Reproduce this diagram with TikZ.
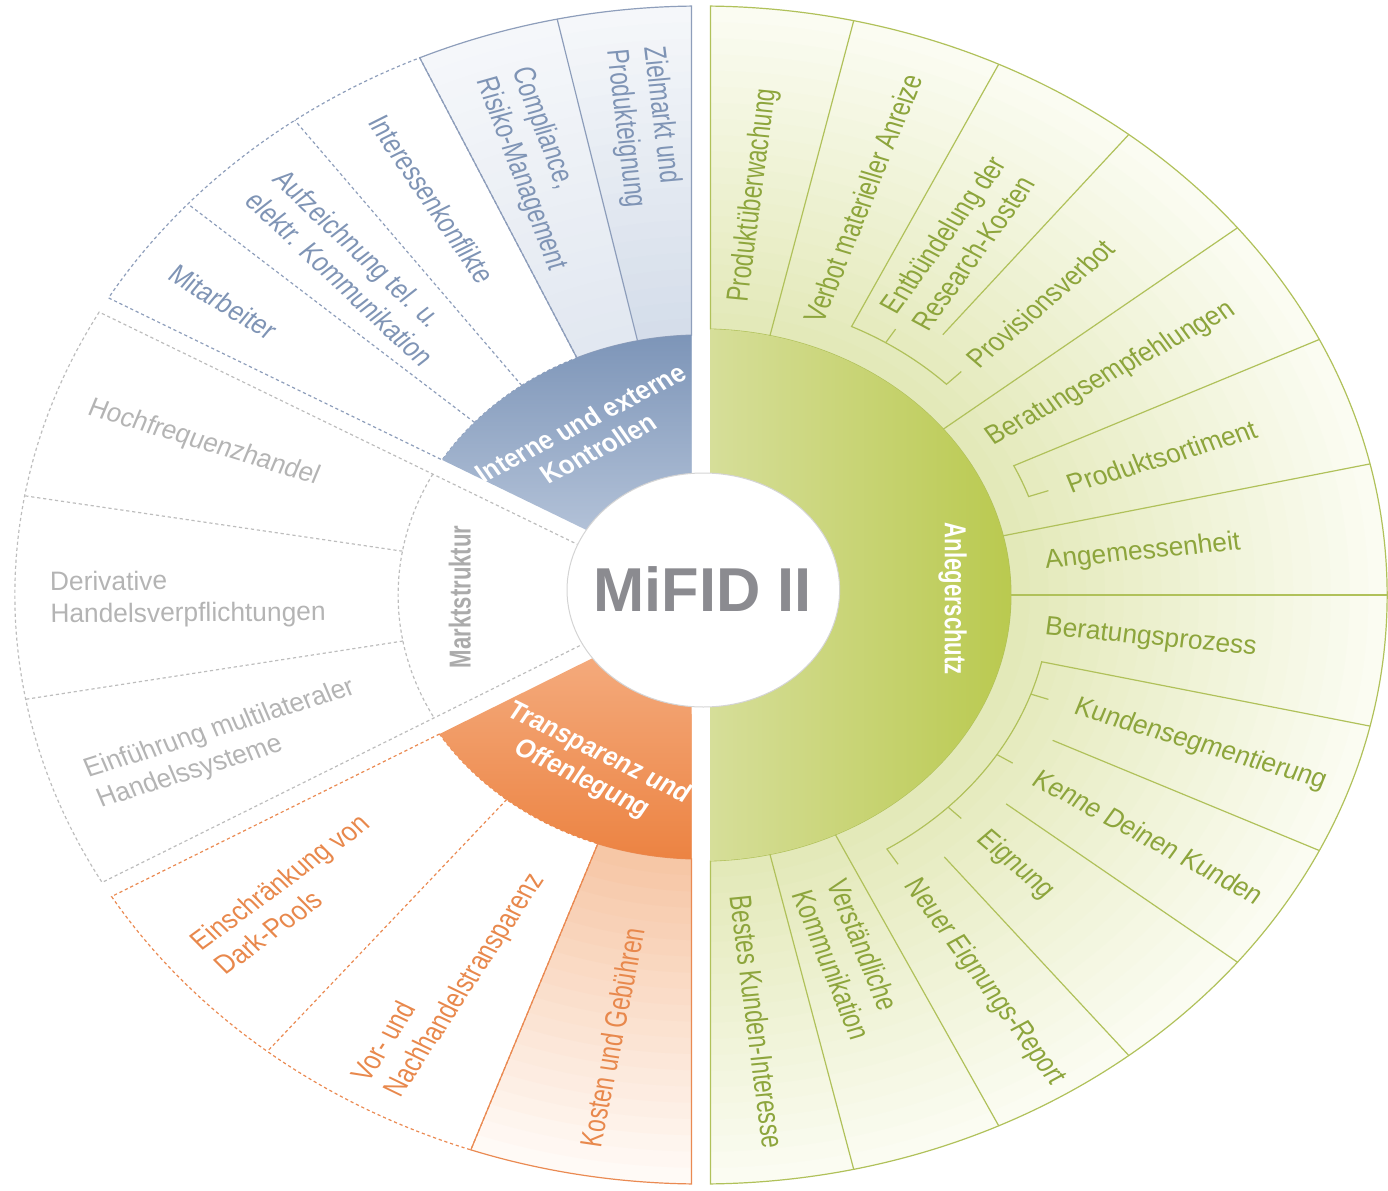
\documentclass[tikz,border=0pt]{standalone}
\usepackage{fontspec}
\setmainfont{Liberation Sans}[FakeStretch=0.85]
\usetikzlibrary{calc}
\definecolor{gIn}{HTML}{E2E8B6}
\definecolor{gOut}{HTML}{FBFCF2}
\definecolor{gRingL}{HTML}{D6DE99}
\definecolor{gRingR}{HTML}{B9C94E}
\definecolor{gLine}{HTML}{B0C15A}
\definecolor{gText}{HTML}{8DA53C}
\definecolor{bIn}{HTML}{D3DCE9}
\definecolor{bIn2}{HTML}{E1E7F0}
\definecolor{bOut}{HTML}{F5F7FA}
\definecolor{bRingT}{HTML}{7D95B8}
\definecolor{bRingB}{HTML}{B3C2D8}
\definecolor{bLine}{HTML}{8E9EBB}
\definecolor{bText}{HTML}{7F94B5}
\definecolor{oIn}{HTML}{F6C4A2}
\definecolor{oOut}{HTML}{FFFAF6}
\definecolor{oRingT}{HTML}{F4AA7C}
\definecolor{oRingB}{HTML}{EC8342}
\definecolor{oLine}{HTML}{EA8A52}
\definecolor{oText}{HTML}{E8884C}
\definecolor{grText}{HTML}{B4B4B4}
\definecolor{grLine}{HTML}{BDBDBD}
\definecolor{grBold}{HTML}{ABABAB}
\definecolor{mText}{HTML}{8B8B90}
\definecolor{cBorder}{HTML}{D4D4D4}
% slice: #1 options, #2 a1, #3 a2, #4 rin, #5 rout, #6 offset at a1, #7 offset at a2
\newcommand\mslice[7]{%
  \pgfmathsetmacro\slA{#2+asin(#6/#4)}%
  \pgfmathsetmacro\slB{#2+asin(#6/#5)}%
  \pgfmathsetmacro\slC{#3-asin(#7/#5)}%
  \pgfmathsetmacro\slD{#3-asin(#7/#4)}%
  \path[#1] (\slA:#4) -- (\slB:#5) arc[start angle=\slB,end angle=\slC,radius=#5]
    -- (\slD:#4) arc[start angle=\slD,end angle=\slA,radius=#4] -- cycle;}
% fade: #1 a1, #2 a2, #3 d1, #4 d2, #5 inner colour, #6 outer colour, #7 inner radius
\newcommand\mfade[7]{%
  \foreach \k in {0,...,20}{%
    \pgfmathsetmacro\fr{589-\k*(589-#7)/20}%
    \pgfmathtruncatemacro\fp{\k*5}%
    \mslice{fill=#5!\fp!#6}{#1}{#2}{120}{\fr}{#3}{#4}}}
\begin{document}
\begin{tikzpicture}[x=0.5pt,y=0.5pt,xscale=1.165,transform shape,
  font=\fontsize{13.3}{16}\selectfont,
  sline/.style={line width=0.6pt},
  dline/.style={line width=0.6pt,dash pattern=on 1.6pt off 1.4pt},
  lab/.style={anchor=west,align=left,inner sep=0pt},
  cat/.style={align=center,inner sep=0pt,text=white,font=\fontsize{13}{15}\selectfont\bfseries}]
\useasboundingbox (-601.72,-595) rectangle (589.70,595);

% ---------------- green group (Anlegerschutz)
\mfade{-90}{90}{8.15}{8.15}{gIn}{gOut}{266}
\mslice{draw=gLine,sline}{-90}{90}{266}{589}{8.15}{8.15}
\mslice{left color=gRingL,right color=gRingR}{-90}{90}{110}{266}{8.15}{8.15}
\foreach \a in {77.14,38.57,12.86,0,-64.29,-77.14}
  \draw[gLine,sline] (\a:266) -- (\a:589);
% brackets
\draw[gLine,sline] (64.29:589) -- (64.29:298) arc[start angle=64.29,end angle=45,radius=298] -- (45:316);
\draw[gLine,sline] (57.86:298) -- (57.86:314);
\draw[gLine,sline] (51.43:589) -- (51.43:333);
\draw[gLine,sline] (25.71:589) -- (25.71:298) arc[start angle=25.71,end angle=19.29,radius=298] -- (19.29:316);
\draw[gLine,sline] (-12.86:589) -- (-12.86:300) arc[start angle=-12.86,end angle=-57.86,radius=300] -- (-57.86:318);
\foreach \a in {-19.29,-32.14,-45}
  \draw[gLine,sline] (\a:300) -- (\a:316);
\foreach \a in {-25.71,-38.57,-51.43}
  \draw[gLine,sline] (\a:589) -- (\a:335);

% ---------------- blue group
\mfade{90}{102.1}{8.15}{0}{bIn}{bOut}{260}
\mfade{102.1}{114.2}{0}{0}{bIn2}{bOut}{260}
\mslice{draw=bLine,sline}{90}{114.2}{260}{589}{8.15}{0}
\draw[bLine,sline] (102.1:260) -- (102.1:589);
\mslice{draw=bLine,dline}{114.2}{150.5}{260}{589}{0}{8.15}
\foreach \a in {126.3,138.4}
  \draw[bLine,dline] (\a:260) -- (\a:589);
\mslice{top color=bRingT,bottom color=bRingB}{90}{150.5}{110}{260}{8.15}{8.15}

% ---------------- grey group
\mslice{draw=grLine,dline}{150.5}{210}{110}{589}{8.15}{8.15}
\pgfmathsetmacro\ga{150.5+asin(8.15/260)}
\pgfmathsetmacro\gb{210-asin(8.15/260)}
\draw[grLine,dline] (\ga:260) arc[start angle=\ga,end angle=\gb,radius=260];
\foreach \a in {170.3,190.2}
  \draw[grLine,dline] (\a:260) -- (\a:589);

% ---------------- orange group
\mfade{250.4}{270}{0}{8.15}{oIn}{oOut}{264}
\mslice{draw=oLine,dline}{210}{250.4}{264}{589}{8.15}{0}
\draw[oLine,dline] (230.8:264) -- (230.8:589);
\mslice{draw=oLine,sline}{250.4}{270}{264}{589}{0}{8.15}
\mslice{top color=oRingT,bottom color=oRingB}{210}{270}{110}{264}{8.15}{8.15}

% ---------------- centre
\fill[white,draw=cBorder,line width=0.5pt] (2,5) circle[radius=117];
\node[font=\fontsize{31}{31}\selectfont\bfseries,text=mText,inner sep=0pt] (mifid) at (1.5,6) {MiFID II};

% ---------------- category labels
\node[cat,rotate=31] (ctrl) at (121:186) {Interne und externe\\Kontrollen};
\node[cat,rotate=-90] (anl) at (-1:216) {Anlegerschutz};
\node[cat,text=grBold,rotate=90] (markt) at (180.5:207) {Marktstruktur};
\node[cat,rotate=-30] (transp) at (241:196) {Transparenz und\\Offenlegung};

% ---------------- green labels
\begin{scope}[every node/.append style={lab,text=gText}]
\node[rotate=83.57] (g1) at (83.57:295) {Produktüberwachung};
\node[rotate=70.71] (g2) at (70.71:290) {Verbot materieller Anreize};
\node[rotate=57.86] (g3) at (57.86:326) {Entbündelung der\\Research-Kosten};
\node[rotate=45] (g4) at (45:328) {Provisionsverbot};
\node[rotate=32.14] (g5) at (32.14:292) {Beratungsempfehlungen};
\node[rotate=19.29] (g6) at (19.29:333) {Produktsortiment};
\node[rotate=6.43] (g7) at (6.43:297) {Angemessenheit};
\node[rotate=-6.43] (g8) at (-6.43:297) {Beratungsprozess};
\node[rotate=-19.29] (g9) at (-19.29:340) {Kundensegmentierung};
\node[rotate=-32.14] (g10) at (-32.14:340) {Kenne Deinen Kunden};
\node[rotate=-45] (g11) at (-45:340) {Eignung};
\node[rotate=-57.86] (g12) at (-57.86:338) {Neuer Eignungs-Report};
\node[rotate=-70.71] (g13) at (-70.71:308) {Verständliche\\Kommunikation};
\node[rotate=-83.57] (g14) at (-83.57:302) {Bestes Kunden-Interesse};
\end{scope}

% ---------------- blue labels
\begin{scope}[every node/.append style={lab,text=bText}]
\node[rotate=276.05] (b1) at (96.05:550) {Zielmarkt und\\Produkteignung};
\node[rotate=288.15] (b2) at (108.15:549) {Compliance,\\Risiko-Management};
\node[rotate=300.25] (b3) at (120.25:553) {Interessenkonflikte};
\node[rotate=312.35] (b4) at (132.35:555) {Aufzeichnung tel. u.\\elektr. Kommunikation};
\node[rotate=324.45] (b5) at (144.45:558) {Mitarbeiter};
\end{scope}

% ---------------- grey labels
\begin{scope}[every node/.append style={lab,text=grText}]
\node[rotate=340.4] (m1) at (160.4:558) {Hochfrequenzhandel};
\node[rotate=0.5] (m2) at (180.5:559) {Derivative\\Handelsverpflichtungen};
\node[rotate=20.1] (m3) at (200.1:557) {Einführung multilateraler\\Handelssysteme};
\end{scope}

% ---------------- orange labels
\begin{scope}[every node/.append style={lab,text=oText}]
\node[rotate=40.4] (o1) at (220.4:558) {Einschränkung von\\Dark-Pools};
\node[rotate=60.6] (o2) at (240.6:566) {Vor- und\\Nachhandelstransparenz};
\node[rotate=80.2] (o3) at (260.2:560) {Kosten und Gebühren};
\end{scope}
\end{tikzpicture}
\end{document}
